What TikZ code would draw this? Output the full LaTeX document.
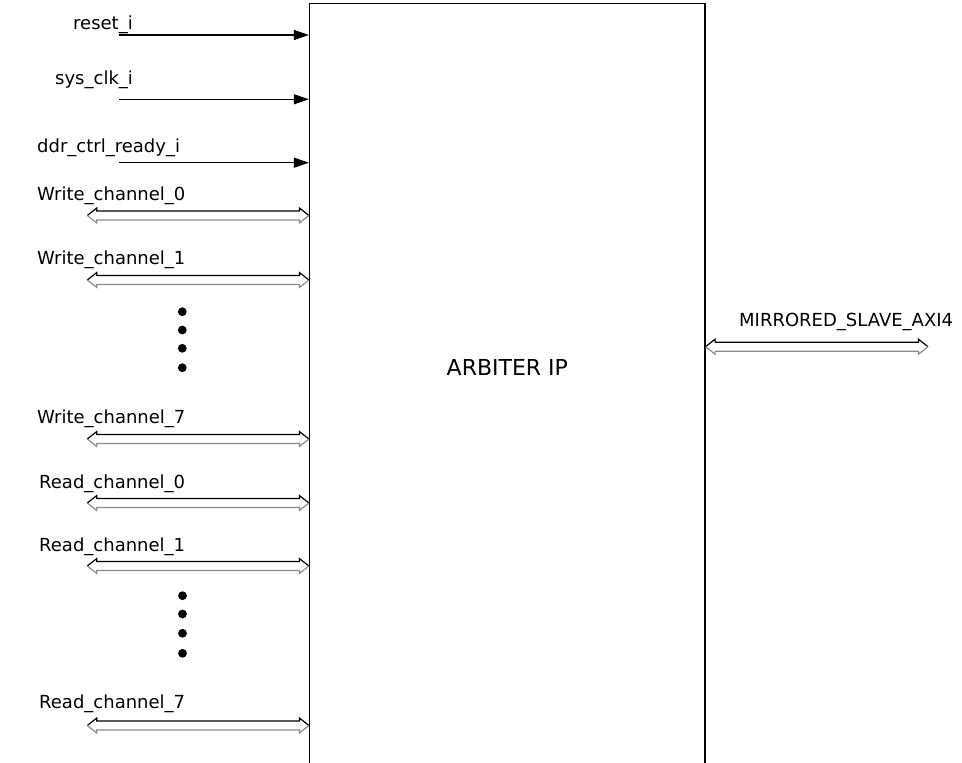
\documentclass[tikz,border=0pt]{standalone}
\usepackage{fontspec}
\setmainfont{DejaVu Sans}
\usetikzlibrary{arrows.meta,calc}
\newcommand\hollowlink[2]{%
  \draw[hollowtop] (#1) -- ++(9.5,-7.5) -- ++(0,3) -- ($(#2)+(-9.5,-4.5)$) -- ++(0,-3) -- (#2);
  \draw[hollowbot] (#1) -- ++(9.5,7.5) -- ++(0,-3) -- ($(#2)+(-9.5,4.5)$) -- ++(0,3) -- (#2);
}
\begin{document}
\begin{tikzpicture}[x=1pt,y=-1pt,
  lbl/.style={anchor=base west,inner sep=0pt,font=\fontsize{18}{20}\selectfont},
  sig/.style={line width=1.2pt,-{Triangle[length=15pt,width=10pt]}},
  hollowtop/.style={line width=1.2pt,black,line join=miter},
  hollowbot/.style={line width=1.2pt,black!45,line join=miter},
  blockbox/.style={draw,line width=1.2pt,rectangle,inner sep=0pt,minimum width=395.5pt,minimum height=796.5pt},
  dot/.style={circle,fill=black,inner sep=0pt,minimum size=8.8pt}]
\useasboundingbox (0,0) rectangle (962,763);
\fill[white] (0,0) rectangle (962,763);
\node[blockbox] (box) at (507.25,401.75) {};
\node[anchor=base west,inner sep=0pt,font=\fontsize{22}{24}\selectfont] (title) at (446.5,375) {ARBITER IP};
% control inputs
\node[lbl] (lrst) at (73,29) {reset\_i};
\node[lbl] (lclk) at (55,84) {sys\_clk\_i};
\node[lbl] (lddr) at (37,152) {ddr\_ctrl\_ready\_i};
\coordinate (rst) at (119,35);
\coordinate (clk) at (119,99.3);
\coordinate (ddr) at (119,162.7);
\draw[sig] (rst) -- (rst -| box.west);
\draw[sig] (clk) -- (clk -| box.west);
\draw[sig] (ddr) -- (ddr -| box.west);
% channels
\node[lbl] (lw0) at (37,200) {Write\_channel\_0};
\node[lbl] (lw1) at (37,264) {Write\_channel\_1};
\node[lbl] (lw7) at (37,423) {Write\_channel\_7};
\node[lbl] (lr0) at (39,488) {Read\_channel\_0};
\node[lbl] (lr1) at (39,551) {Read\_channel\_1};
\node[lbl] (lr7) at (39,708) {Read\_channel\_7};
\coordinate (w0) at (87.3,215.5);
\coordinate (w1) at (87.3,280);
\coordinate (w7) at (87.3,439);
\coordinate (r0) at (87.3,503);
\coordinate (r1) at (87.3,566);
\coordinate (r7) at (87.3,725.5);
\hollowlink{w0}{w0 -| box.west}
\hollowlink{w1}{w1 -| box.west}
\hollowlink{w7}{w7 -| box.west}
\hollowlink{r0}{r0 -| box.west}
\hollowlink{r1}{r1 -| box.west}
\hollowlink{r7}{r7 -| box.west}
% dots
\node[dot] (d1) at (182.3,311.7) {};
\node[dot] (d2) at (182.3,330) {};
\node[dot] (d3) at (182.3,348.3) {};
\node[dot] (d4) at (182.3,367.7) {};
\node[dot] (d5) at (182.5,595.7) {};
\node[dot] (d6) at (182.5,614) {};
\node[dot] (d7) at (182.5,633.3) {};
\node[dot] (d8) at (182.5,653.3) {};
% output
\node[lbl] (laxi) at (739,326) {MIRRORED\_SLAVE\_AXI4};
\coordinate (axi) at (928,346.7);
\hollowlink{axi -| box.east}{axi}
\end{tikzpicture}
\end{document}
